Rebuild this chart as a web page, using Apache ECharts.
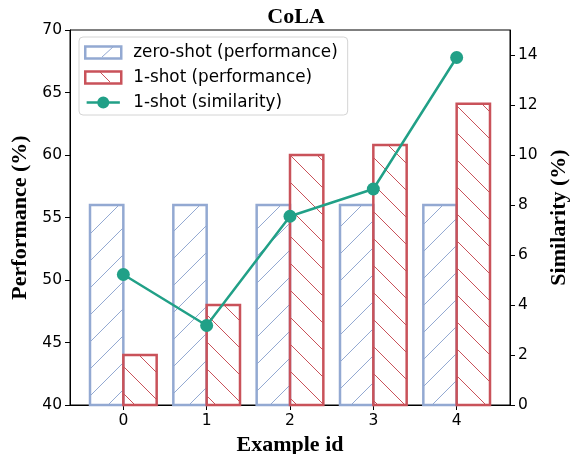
<!DOCTYPE html>
<html>
<head>
<meta charset="utf-8">
<script src="https://cdn.jsdelivr.net/npm/echarts@6/dist/echarts.min.js"></script>
<style>html,body{margin:0;padding:0;background:#fff;}#c{width:571px;height:454px;}</style>
</head>
<body>
<div id="c"></div>
<script>
const categories = [0, 1, 2, 3, 4];
const zeroShotPerf = [56, 56, 56, 56, 56];
const oneShotPerf = [44, 48, 60, 60.8, 64.1];
const oneShotSim = [5.22, 3.18, 7.55, 8.64, 13.9];
const leftTicks = [40, 45, 50, 55, 60, 65, 70];
const rightTicks = [0, 2, 4, 6, 8, 10, 12, 14];

const BLUE = '#93a9d2';
const RED = '#c9525a';
const GREEN = '#21a087';
const HATCH = 27;

function hatchRenderer(offset, color, dir) {
  return function (params, api) {
    const x = api.value(0), v = api.value(1);
    const pa = api.coord([x + offset - 0.2, v]);
    const pb = api.coord([x + offset + 0.2, 40]);
    const x0 = Math.min(pa[0], pb[0]), x1 = Math.max(pa[0], pb[0]);
    const y0 = Math.min(pa[1], pb[1]), y1 = Math.max(pa[1], pb[1]);
    const children = [];
    if (dir === '/') {
      for (let c = Math.ceil((x0 + y0) / HATCH) * HATCH; c <= x1 + y1; c += HATCH) {
        const xa = Math.max(x0, c - y1), xb = Math.min(x1, c - y0);
        if (xb > xa) children.push({type: 'line', shape: {x1: xa, y1: c - xa, x2: xb, y2: c - xb}, style: {stroke: color, lineWidth: 1}});
      }
    } else {
      for (let c = Math.ceil((x0 - y1) / HATCH) * HATCH; c <= x1 - y0; c += HATCH) {
        const xa = Math.max(x0, c + y0), xb = Math.min(x1, c + y1);
        if (xb > xa) children.push({type: 'line', shape: {x1: xa, y1: xa - c, x2: xb, y2: xb - c}, style: {stroke: color, lineWidth: 1}});
      }
    }
    children.push({type: 'rect', shape: {x: x0, y: y0, width: x1 - x0, height: y1 - y0}, style: {fill: 'none', stroke: color, lineWidth: 2.5}});
    return {type: 'group', children: children};
  };
}

const tickFont = {fontFamily: 'DejaVu Sans', fontSize: 15.5, color: '#000'};
const nameFont = {fontFamily: 'Liberation Serif', fontWeight: 'bold', fontSize: 22, color: '#000'};

const chart = echarts.init(document.getElementById('c'));
chart.setOption({
  animation: false,
  backgroundColor: '#fff',
  title: {
    text: 'CoLA', left: 291, top: 1, textAlign: 'center',
    textStyle: {fontFamily: 'Liberation Serif', fontWeight: 'bold', fontSize: 22, color: '#000'}
  },
  grid: {left: 70, right: 61, top: 30, bottom: 49, outerBoundsMode: 'none', containLabel: false,
         show: true, borderColor: '#000', borderWidth: 1, backgroundColor: 'transparent'},
  legend: {
    orient: 'vertical', left: 79, top: 37,
    padding: [7, 10, 4, 5],
    itemWidth: 36, itemHeight: 12, itemGap: 8,
    backgroundColor: '#fff', borderColor: '#d4d4d4', borderWidth: 1, borderRadius: 4,
    textStyle: {fontFamily: 'DejaVu Sans', fontSize: 16.8, color: '#000', lineHeight: 17, padding: [0, 0, 0, 7]},
    data: [
      {name: 'zero-shot (performance)', icon: 'rect', itemStyle: {color: '#fff', borderColor: BLUE, borderWidth: 2.5}},
      {name: '1-shot (performance)', icon: 'rect', itemStyle: {color: '#fff', borderColor: RED, borderWidth: 2.5}},
      {name: '1-shot (similarity)',
       icon: 'path://M0,5.25 H36 V7.75 H0 Z M11.5,6.5 A6.5,6.5 0 1 1 24.5,6.5 A6.5,6.5 0 1 1 11.5,6.5 Z',
       itemStyle: {color: GREEN, borderWidth: 0}}
    ]
  },
  graphic: [
    {type: 'line', z: 100, shape: {x1: 102, y1: 57, x2: 113, y2: 47}, style: {stroke: BLUE, lineWidth: 1}},
    {type: 'line', z: 100, shape: {x1: 99, y1: 71, x2: 110, y2: 82}, style: {stroke: RED, lineWidth: 1}}
  ],
  xAxis: {
    type: 'value', min: -0.64, max: 4.64,
    name: 'Example id', nameLocation: 'middle', nameGap: 24,
    nameTextStyle: nameFont,
    axisLine: {show: true, onZero: false, lineStyle: {color: '#000', width: 1}},
    axisTick: {show: true, customValues: categories, length: 5, lineStyle: {color: '#000'}},
    axisLabel: Object.assign({customValues: categories, margin: 8}, tickFont),
    splitLine: {show: false}
  },
  yAxis: [
    {
      type: 'value', min: 40, max: 70, interval: 5,
      name: 'Performance (%)', nameLocation: 'middle', nameGap: 33,
      nameTextStyle: nameFont,
      axisLine: {show: true, onZero: false, lineStyle: {color: '#000', width: 1}},
      axisTick: {show: true, customValues: leftTicks, length: 5, lineStyle: {color: '#000'}},
      axisLabel: Object.assign({customValues: leftTicks, margin: 8}, tickFont),
      splitLine: {show: false}
    },
    {
      type: 'value', min: 0, max: 15, position: 'right',
      name: 'Similarity (%)', nameLocation: 'middle', nameGap: 28,
      nameTextStyle: nameFont,
      axisLine: {show: true, onZero: false, lineStyle: {color: '#000', width: 1}},
      axisTick: {show: true, customValues: rightTicks, length: 5, lineStyle: {color: '#000'}},
      axisLabel: Object.assign({customValues: rightTicks, margin: 8}, tickFont),
      splitLine: {show: false}
    }
  ],
  series: [
    {
      name: 'zero-shot (performance)', type: 'custom', yAxisIndex: 0, z: 2,
      itemStyle: {color: BLUE},
      renderItem: hatchRenderer(-0.2, BLUE, '/'),
      data: categories.map((c, i) => [c, zeroShotPerf[i]])
    },
    {
      name: '1-shot (performance)', type: 'custom', yAxisIndex: 0, z: 2,
      itemStyle: {color: RED},
      renderItem: hatchRenderer(0.2, RED, '\\'),
      data: categories.map((c, i) => [c, oneShotPerf[i]])
    },
    {
      name: '1-shot (similarity)', type: 'line', yAxisIndex: 1, z: 5,
      symbol: 'circle', symbolSize: 13,
      lineStyle: {color: GREEN, width: 2.5},
      itemStyle: {color: GREEN},
      data: categories.map((c, i) => [c, oneShotSim[i]])
    }
  ]
});
</script>
</body>
</html>
